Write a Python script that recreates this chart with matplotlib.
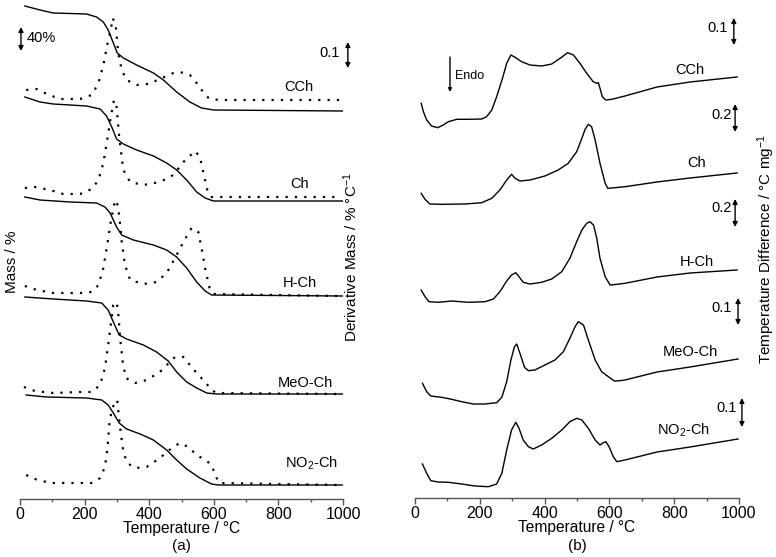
import matplotlib
matplotlib.use("Agg")
import matplotlib.pyplot as plt
import numpy as np

plt.rcParams['font.family'] = ['Liberation Sans', 'DejaVu Sans']
plt.rcParams['mathtext.default'] = 'regular'

samples = ["CCh", "Ch", "H-Ch", "MeO-Ch", "NO$_2$-Ch"]

# ---- (a) TGA: mass and derivative mass, values relative to each sample's baseline
tg_T = [
    [15, 62, 103, 206, 237, 258, 273, 289, 301, 320, 361, 413, 444, 485, 526, 562, 599, 1000],
    [15, 62, 103, 206, 248, 268, 284, 299, 320, 361, 413, 454, 485, 516, 547, 573, 599, 1000],
    [15, 62, 155, 237, 263, 279, 299, 315, 351, 413, 454, 485, 516, 547, 573, 593, 1000],
    [15, 103, 206, 253, 273, 289, 307, 330, 382, 423, 459, 485, 516, 547, 578, 609, 1000],
    [19, 83, 206, 253, 273, 289, 307, 330, 372, 413, 454, 485, 516, 557, 593, 614, 1000],
]
tg_mass = [
    [105, 101, 98, 97, 94, 89, 81, 68, 58, 53, 46, 38, 31, 19, 9, 3, 1, 0],
    [104, 99, 97, 95, 92, 85, 74, 62, 57, 51, 45, 38, 31, 21, 9, 3, 0, 0],
    [99, 96, 94, 93, 89, 83, 69, 61, 56, 51, 46, 39, 28, 14, 5, 1, 0],
    [97, 95, 93, 91, 84, 72, 59, 55, 49, 42, 33, 22, 12, 6, 1, 0, 0],
    [90, 88, 87, 85, 80, 72, 62, 56, 51, 45, 35, 25, 16, 7, 1, 0, 0],
]
dtg_T = [
    [19, 52, 83, 124, 186, 222, 243, 258, 270, 281, 287, 296, 304, 315, 330, 361, 397, 433,
     475, 495, 526, 552, 573, 588, 620, 990],
    [15, 46, 93, 134, 186, 222, 243, 258, 270, 281, 291, 299, 308, 320, 341, 382, 433, 475,
     506, 542, 557, 568, 580, 593, 990],
    [15, 52, 103, 186, 222, 243, 258, 270, 281, 291, 299, 307, 315, 325, 341, 382, 423, 454,
     480, 506, 531, 552, 562, 573, 586, 599, 990],
    [12, 46, 103, 186, 222, 248, 263, 273, 282, 289, 299, 304, 310, 318, 328, 356, 392, 433,
     464, 480, 506, 526, 547, 573, 593, 609, 990],
    [19, 46, 93, 155, 222, 248, 263, 271, 277, 284, 294, 301, 305, 312, 320, 332, 356, 392,
     433, 470, 495, 521, 547, 578, 593, 607, 617, 990],
]
dtg_val = [
    [21, 22, 17, 12, 12, 16, 28, 46, 66, 81, 93, 86, 58, 41, 31, 26, 27, 32, 38, 39, 36, 26,
     16, 12, 11, 11],
    [13, 14, 11, 7, 7, 12, 21, 38, 61, 84, 101, 94, 61, 31, 19, 16, 19, 26, 39, 50, 44, 28,
     11, 4, 4],
    [10, 6, 3, 3, 4, 11, 28, 51, 74, 91, 96, 81, 54, 31, 16, 12, 14, 23, 38, 54, 68, 64, 48,
     28, 9, 2, 0],
    [7, 3, 1, 2, 2, 9, 26, 49, 72, 89, 92, 82, 56, 32, 16, 11, 14, 22, 32, 37, 37, 29, 21,
     12, 4, 1, 0],
    [10, 6, 2, 2, 2, 7, 18, 38, 62, 75, 83, 85, 72, 52, 33, 22, 17, 18, 27, 37, 42, 38, 30,
     24, 20, 8, 2, 0],
]
tg_offset = [388, 298, 203, 105, 14]

# ---- (b) DTA: temperature difference, relative to each sample's baseline
dta_T = [
    [19, 26, 36, 51, 70, 87, 103, 129, 165, 206, 221, 237, 252, 270, 283, 296, 309, 329, 355,
     391, 422, 448, 471, 489, 509, 530, 550, 561, 566, 571, 578, 589, 607, 648, 747, 849, 994],
    [19, 31, 46, 82, 154, 206, 237, 262, 283, 298, 309, 324, 355, 401, 442, 473, 499, 515,
     525, 535, 545, 556, 571, 587, 595, 617, 648, 747, 849, 994],
    [19, 31, 43, 72, 113, 165, 216, 242, 262, 283, 298, 311, 321, 334, 355, 391, 422, 453,
     478, 499, 515, 530, 540, 551, 561, 571, 587, 602, 623, 648, 747, 849, 994],
    [23, 36, 49, 82, 113, 144, 180, 216, 252, 268, 283, 296, 307, 314, 324, 338, 350, 370,
     401, 432, 458, 478, 494, 504, 520, 535, 556, 576, 597, 615, 633, 648, 747, 849, 997],
    [23, 36, 49, 72, 103, 144, 185, 226, 252, 268, 283, 298, 311, 321, 334, 350, 365, 391,
     422, 453, 478, 499, 515, 535, 556, 571, 581, 589, 599, 612, 623, 648, 747, 849, 997],
]
dta_val = [
    [26.7, 18.3, 10, 4, 2.3, 5, 8.3, 10.7, 10.7, 11, 13.3, 20, 33.3, 51.7, 66.7, 75, 72.7,
     68.3, 65, 64, 66, 71.7, 77.3, 75, 66.7, 56.7, 48.3, 46.7, 47.3, 41.7, 33.3, 30, 30.7, 34,
     43, 48, 53],
    [16.7, 10.7, 6, 5.7, 6, 7.3, 11.7, 20, 30, 35.7, 31.7, 29, 30, 34, 40, 46.7, 58.3, 71.7,
     80.7, 85.7, 83.3, 70, 46.7, 26.7, 21.7, 22.3, 23.3, 28, 32, 37],
    [15, 8.3, 3.3, 2.7, 4, 2.7, 3.3, 6, 13.3, 24, 30, 32.3, 28.3, 22.7, 21, 22.7, 26, 33.3,
     46.7, 63.3, 75, 81.7, 83.3, 80, 66.7, 46.7, 28.3, 20, 20.7, 21.7, 28, 32, 35],
    [21.7, 13.3, 9, 7.7, 5.7, 3.3, 1, 1, 2.3, 7.7, 23.3, 45, 58.3, 61, 51.7, 37.7, 34.3, 35,
     40, 45, 53.3, 66.7, 78.3, 83.3, 80, 65, 45, 33.3, 28.3, 24, 24.3, 25, 33, 38, 46],
    [26, 16.7, 9.3, 8, 7.7, 6, 4, 3.3, 6, 16.7, 40, 60, 67.7, 61.7, 50, 43.3, 41, 45, 51.7,
     60, 68.3, 71.7, 70, 61.7, 50, 45, 47.3, 48.3, 43.3, 33.3, 28.3, 30, 38, 43, 51],
]
dta_offset = [368, 288, 193, 93, 8]
dta_scale = ["0.1", "0.2", "0.2", "0.1", "0.1"]

W, H = 776, 557
fig = plt.figure(figsize=(W / 100, H / 100), dpi=100)


def px_axes(x0, x1, ybot):
    return fig.add_axes([x0 / W, (H - ybot) / H, (x1 - x0) / W, ybot / H])


def style_axis(ax, top):
    ax.set_xlim(0, 1000)
    ax.set_ylim(0, top)
    for s in ['left', 'right', 'top']:
        ax.spines[s].set_visible(False)
    ax.spines['bottom'].set_color('#555555')
    ax.spines['bottom'].set_linewidth(1.0)
    ax.set_yticks([])
    ax.set_xticks(np.arange(0, 1001, 200))
    ax.set_xticks(np.arange(100, 1000, 200), minor=True)
    ax.tick_params(axis='x', which='major', length=4, width=1, color='#555555',
                   labelsize=11.5, pad=2)
    ax.tick_params(axis='x', which='minor', length=2.5, width=1, color='#555555')
    ax.set_xlabel("Temperature / °C", fontsize=11.2, labelpad=-1)
    ax.patch.set_alpha(0)


def vbar(ax, x, y0, y1, style='<|-|>', ms=7):
    ax.annotate('', xy=(x, y1), xytext=(x, y0), annotation_clip=False,
                arrowprops=dict(arrowstyle=style, color='k', lw=1.0, mutation_scale=ms,
                                shrinkA=0, shrinkB=0))


ax_a = px_axes(20, 343, 499)
style_axis(ax_a, 499)
for i in range(len(samples)):
    ax_a.plot(tg_T[i], np.array(tg_mass[i]) + tg_offset[i], color='k', lw=1.0)
    ax_a.plot(dtg_T[i], np.array(dtg_val[i]) + tg_offset[i], color='k', lw=1.6,
              linestyle=(0, (1, 3.2)))

lab_a = [(864, 412), (867, 315), (867, 216), (882, 116), (901, 36)]
for name, (x, y) in zip(samples, lab_a):
    ax_a.text(x, y, name, fontsize=10.5, ha='center', va='center')

vbar(ax_a, 3, 448, 472)
ax_a.text(22, 461, "40%", fontsize=10.5, ha='left', va='center')
vbar(ax_a, 1015, 431, 457)
ax_a.text(991, 446, "0.1", fontsize=10.5, ha='right', va='center')
fig.text(181 / W, 1 - 546 / H, "(a)", fontsize=11, ha='center', va='center')

ax_b = px_axes(415, 739, 498)
style_axis(ax_b, 498)
for i in range(len(samples)):
    ax_b.plot(dta_T[i], np.array(dta_val[i]) + dta_offset[i], color='k', lw=1.0)

lab_b = [(849, 428), (870, 335), (870, 236), (849, 146), (827, 68)]
for name, (x, y) in zip(samples, lab_b):
    ax_b.text(x, y, name, fontsize=10.5, ha='center', va='center')

bars_b = [(984, 453, 480, 966, 470), (988, 366, 394, 978, 383), (988, 271, 299, 978, 290),
          (997, 173, 200, 978, 190), (1009, 71, 100, 994, 90)]
for lab, (xa, y0, y1, xt, yt) in zip(dta_scale, bars_b):
    vbar(ax_b, xa, y0, y1)
    ax_b.text(xt, yt, lab, fontsize=10.5, ha='right', va='center')

vbar(ax_b, 108, 441, 406, style='-|>', ms=5)
ax_b.text(123, 422, "Endo", fontsize=9, ha='left', va='center')
fig.text(577 / W, 1 - 546 / H, "(b)", fontsize=11, ha='center', va='center')

fig.text(12 / W, 1 - 262 / H, "Mass / %", rotation=90, fontsize=11, ha='center',
         va='center')
fig.text(351 / W, 1 - 257 / H, "Derivative Mass / % °C$^{-1}$", rotation=90, fontsize=11,
         ha='center', va='center')
fig.text(766 / W, 1 - 249 / H, "Temperature Difference / °C mg$^{-1}$", rotation=90,
         fontsize=11, ha='center', va='center')

fig.savefig("out.png", dpi=100)
